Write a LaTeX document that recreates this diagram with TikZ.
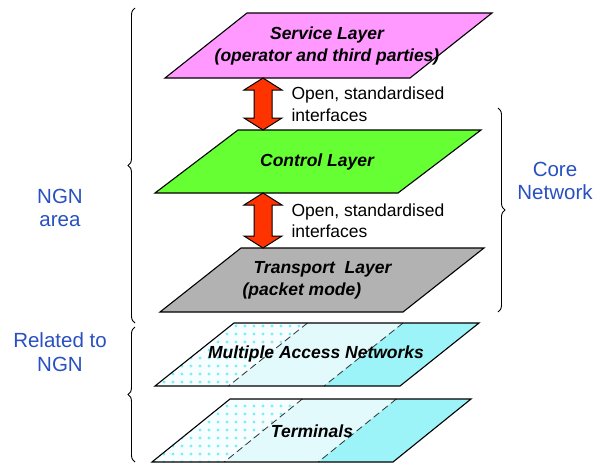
\documentclass[tikz,border=0pt]{standalone}
\usepackage{fontspec}
\setmainfont{Liberation Sans}
\usepackage{xcolor}
\definecolor{ngnPink}{HTML}{FF99FF}
\definecolor{ngnGreen}{HTML}{66FF33}
\definecolor{ngnGrey}{HTML}{B2B2B2}
\definecolor{ngnRed}{HTML}{FF3300}
\definecolor{ngnBlue}{HTML}{2850C0}
\definecolor{ngnCyan}{HTML}{9CF4F8}
\definecolor{ngnPale}{HTML}{E2FAFC}
\definecolor{ngnWhite}{HTML}{F6FEFF}
\definecolor{ngnDot}{HTML}{80ECF4}
\usetikzlibrary{positioning,calc,decorations.pathreplacing,backgrounds}

\begin{document}
\begin{tikzpicture}[x=1pt,y=-1pt,
      every node/.style={font=\fontsize{17.5}{21.5}\selectfont},
      layer/.style={draw=black,line width=1.1pt,line join=miter},
      layertext/.style={align=center,font=\fontsize{17.5}{22}\selectfont\bfseries\itshape},
      ifarr/.style={draw=black,fill=ngnRed,line width=1pt,line join=miter},
      iflabel/.style={align=left,anchor=west},
      side/.style={align=center,text=ngnBlue,font=\fontsize{20.5}{23.5}\selectfont},
      brc/.style={decorate,decoration={brace,amplitude=7pt},line width=0.9pt},
      divline/.style={draw=black!80,line width=0.8pt,dash pattern=on 7pt off 4pt},
    ]
    \useasboundingbox (0,0) rectangle (595,464);

    % --- the five layers ---
    \draw[layer,fill=ngnPink] (165,78) coordinate (svcBL) -- ++(245,0) coordinate (svcBR)
      -- ++(82,-65) coordinate (svcTR) -- ++(-245,0) coordinate (svcTL) -- cycle;
    \draw[layer,fill=ngnGreen] (155,193) coordinate (ctlBL) -- ++(243,0) coordinate (ctlBR)
      -- ++(83,-63) coordinate (ctlTR) -- ++(-243,0) coordinate (ctlTL) -- cycle;
    \draw[layer,fill=ngnGrey] (160,312) coordinate (trnBL) -- ++(243,0) coordinate (trnBR)
      -- ++(81,-64) coordinate (trnTR) -- ++(-243,0) coordinate (trnTL) -- cycle;
    \path (155,386) coordinate (accBL) -- ++(245,0) coordinate (accBR)
      -- ++(79,-63) coordinate (accTR) -- ++(-245,0) coordinate (accTL);
    \path (152,462) coordinate (trmBL) -- ++(241,0) coordinate (trmBR)
      -- ++(78,-63) coordinate (trmTR) -- ++(-241,0) coordinate (trmTL);

    % --- access layers in three parts ---
    \foreach \lay in {acc,trm} {
      \coordinate (\lay Ta) at ($(\lay TL)!0.3!(\lay TR)$);
      \coordinate (\lay Ba) at ($(\lay BL)!0.3!(\lay BR)$);
      \coordinate (\lay Tb) at ($(\lay TL)!0.69!(\lay TR)$);
      \coordinate (\lay Bb) at ($(\lay BL)!0.69!(\lay BR)$);
      \fill[ngnPale] (\lay BL) -- (\lay TL) -- (\lay TR) -- (\lay BR) -- cycle;
      \fill[ngnCyan] (\lay Tb) -- (\lay TR) -- (\lay BR) -- (\lay Bb) -- cycle;
      \begin{scope}
        \clip (\lay BL) -- (\lay TL) -- (\lay Ta) -- (\lay Ba) -- cycle;
        \fill[ngnWhite] (140,300) rectangle (340,470);
        \foreach \gx in {146,155,...,330}
          \foreach \gy in {318,326,...,470}
            \fill[ngnDot] (\gx,\gy) circle (1.7pt);
      \end{scope}
      \draw[divline] (\lay Ta) -- (\lay Ba);
      \draw[divline] (\lay Tb) -- (\lay Bb);
      \draw[layer] (\lay BL) -- (\lay TL) -- (\lay TR) -- (\lay BR) -- cycle;
    }

    % --- layer names ---
    \node[layertext] (svc) at (327,46) {Service Layer\\(operator and third parties)};
    \node[layertext] (ctl) at (317,161.5) {Control Layer};
    \node[layertext,align=left] (trn) at (317,280)
      {\hspace*{11pt}Transport\ \ Layer\\(packet mode)};
    \node[layertext] (acc) at (316,354) {Multiple Access Networks};
    \node[layertext] (trm) at (312,431) {Terminals};

    % --- open interfaces between layers ---
    \coordinate (ar1top) at ($(svcBL)!0.4!(svcBR)$);
    \coordinate (ar1bot) at (ar1top |- ctlTL);
    \coordinate (ar2top) at (ar1top |- ctlBL);
    \coordinate (ar2bot) at (ar1top |- trnTL);

    \draw[ifarr] (ar1top) -- ($(ar1top)+(19,12)$) -- ($(ar1top)+(9,12)$)
      -- ($(ar1bot)+(9,-12)$) -- ($(ar1bot)+(19,-12)$) -- (ar1bot)
      -- ($(ar1bot)+(-19,-12)$) -- ($(ar1bot)+(-9,-12)$)
      -- ($(ar1top)+(-9,12)$) -- ($(ar1top)+(-19,12)$) -- cycle;
    \draw[ifarr] (ar2top) -- ($(ar2top)+(19,12)$) -- ($(ar2top)+(9,12)$)
      -- ($(ar2bot)+(9,-12)$) -- ($(ar2bot)+(19,-12)$) -- (ar2bot)
      -- ($(ar2bot)+(-19,-12)$) -- ($(ar2bot)+(-9,-12)$)
      -- ($(ar2top)+(-9,12)$) -- ($(ar2top)+(-19,12)$) -- cycle;

    \node[iflabel] (if1) at ($(ar1top)!0.5!(ar1bot)+(25,0)$) {Open, standardised\\interfaces};
    \node[iflabel] (if2) at ($(ar2top)!0.5!(ar2bot)+(25,0)$) {Open, standardised\\interfaces};

    % --- braces ---
    \coordinate (ngnTop) at (135,8);
    \coordinate (ngnBot) at (135,323);
    \coordinate (relTop) at (135,327);
    \coordinate (relBot) at (135,462);
    \coordinate (coreTop) at (498,108);
    \coordinate (coreBot) at (498,312);
    \draw[brc] (ngnBot) -- (ngnTop);
    \draw[brc] (relBot) -- (relTop);
    \draw[brc] (coreTop) -- (coreBot);

    \node[side] (ngnArea) at (60,208) {NGN\\area};
    \node[side] (relNgn) at (60,352) {Related to\\NGN};
    \node[side] (coreNet) at (555,181) {Core\\Network};

  \end{tikzpicture}
\end{document}
